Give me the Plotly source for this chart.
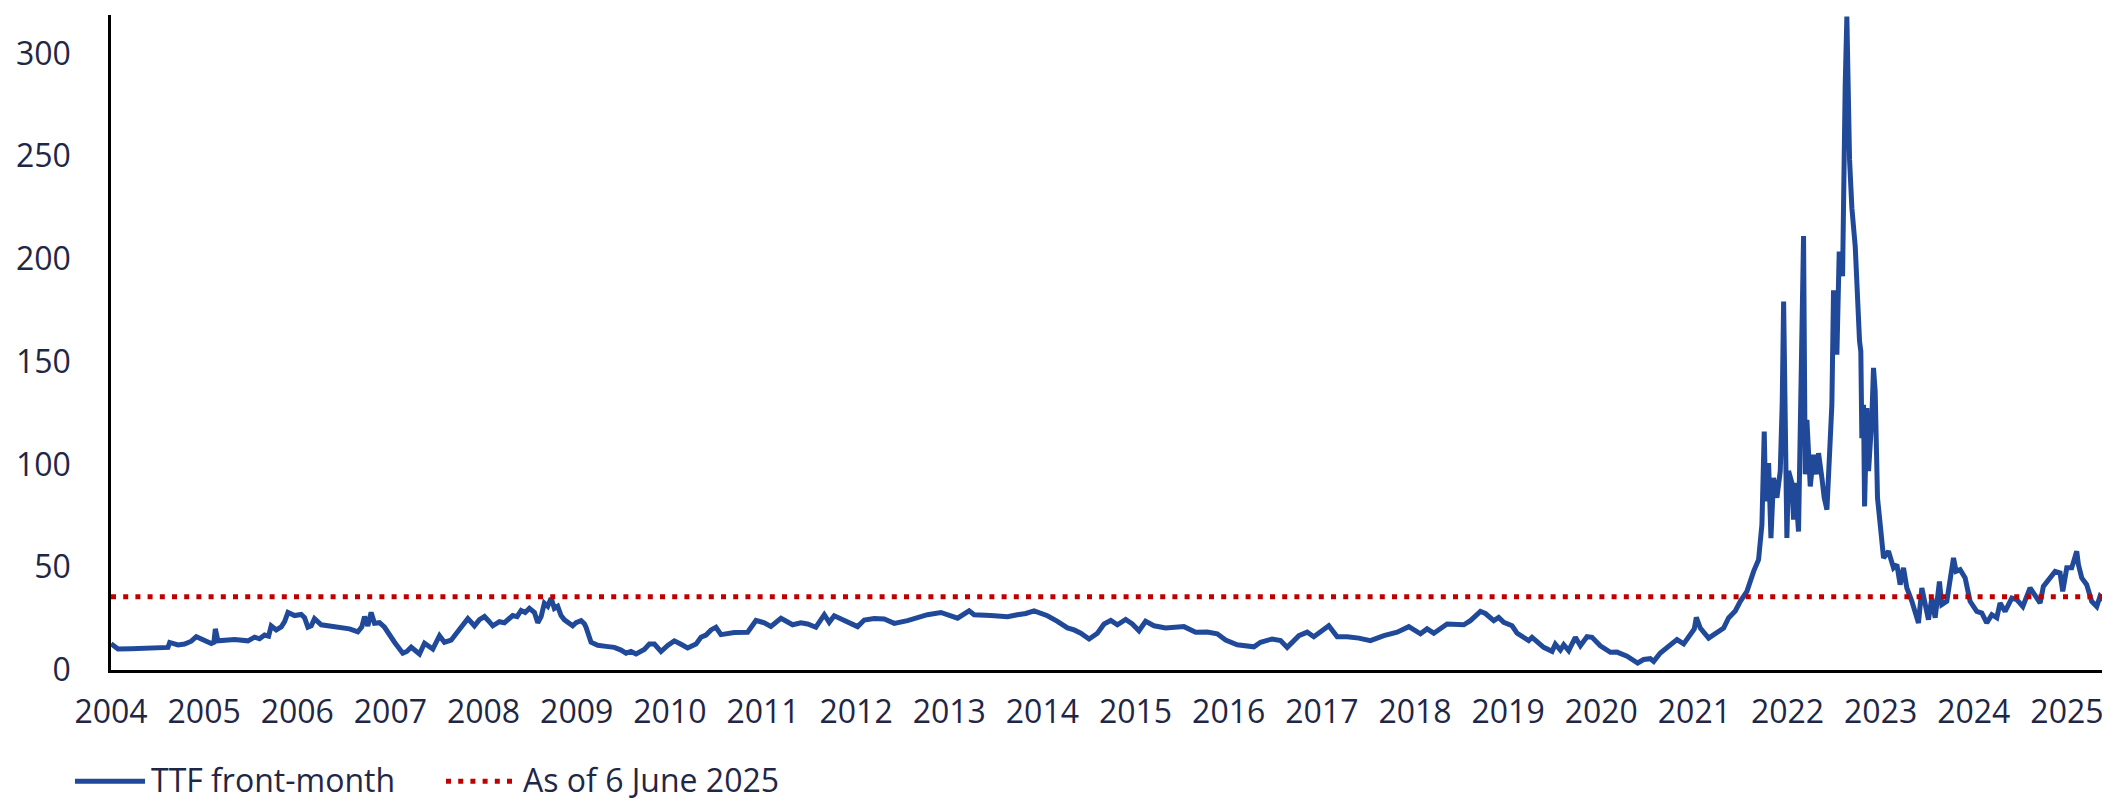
import plotly.graph_objects as go

# TTF front-month gas price (decimal years)
years = [
    2004.00, 2004.075, 2004.218, 2004.433, 2004.612, 2004.630, 2004.719, 2004.790, 2004.862, 2004.916,
    2005.005, 2005.077, 2005.105, 2005.120, 2005.148, 2005.327, 2005.470, 2005.542, 2005.595, 2005.649,
    2005.692, 2005.720, 2005.774, 2005.828, 2005.864, 2005.900, 2005.971, 2006.042, 2006.078, 2006.114,
    2006.150, 2006.185, 2006.257, 2006.346, 2006.472, 2006.561, 2006.650, 2006.693, 2006.722, 2006.758,
    2006.793, 2006.829, 2006.883, 2006.937, 2007.044, 2007.090, 2007.133, 2007.176, 2007.223, 2007.266,
    2007.312, 2007.366, 2007.455, 2007.527, 2007.580, 2007.652, 2007.706, 2007.759, 2007.831, 2007.902,
    2007.956, 2008.010, 2008.052, 2008.099, 2008.170, 2008.224, 2008.313, 2008.360, 2008.403, 2008.446,
    2008.492, 2008.546, 2008.582, 2008.618, 2008.653, 2008.689, 2008.725, 2008.760, 2008.796, 2008.832,
    2008.868, 2008.957, 2008.993, 2009.047, 2009.082, 2009.100, 2009.154, 2009.226, 2009.315, 2009.404,
    2009.476, 2009.530, 2009.583, 2009.637, 2009.726, 2009.780, 2009.834, 2009.905, 2009.977, 2010.048,
    2010.120, 2010.191, 2010.281, 2010.334, 2010.388, 2010.442, 2010.495, 2010.549, 2010.692, 2010.835,
    2010.925, 2011.014, 2011.085, 2011.193, 2011.318, 2011.407, 2011.479, 2011.568, 2011.658, 2011.711,
    2011.765, 2011.837, 2011.926, 2012.016, 2012.087, 2012.194, 2012.302, 2012.409, 2012.552, 2012.659,
    2012.766, 2012.910, 2012.999, 2013.089, 2013.213, 2013.267, 2013.446, 2013.625, 2013.732, 2013.822,
    2013.911, 2013.983, 2014.054, 2014.161, 2014.269, 2014.340, 2014.412, 2014.501, 2014.591, 2014.662,
    2014.734, 2014.805, 2014.894, 2014.965, 2015.037, 2015.108, 2015.198, 2015.323, 2015.412, 2015.520,
    2015.645, 2015.770, 2015.877, 2015.967, 2016.092, 2016.181, 2016.271, 2016.342, 2016.467, 2016.557,
    2016.628, 2016.754, 2016.843, 2016.914, 2017.004, 2017.075, 2017.165, 2017.272, 2017.397, 2017.522,
    2017.666, 2017.809, 2017.934, 2018.059, 2018.130, 2018.202, 2018.345, 2018.524, 2018.595, 2018.703,
    2018.756, 2018.846, 2018.899, 2018.953, 2019.043, 2019.096, 2019.221, 2019.257, 2019.382, 2019.472,
    2019.507, 2019.561, 2019.597, 2019.650, 2019.722, 2019.776, 2019.847, 2019.901, 2019.990, 2020.098,
    2020.169, 2020.277, 2020.391, 2020.455, 2020.527, 2020.563, 2020.634, 2020.706, 2020.813, 2020.885,
    2020.956, 2020.999, 2021.021, 2021.063, 2021.153, 2021.224, 2021.314, 2021.367, 2021.439, 2021.493,
    2021.564, 2021.636, 2021.689, 2021.725, 2021.739, 2021.750, 2021.761, 2021.772, 2021.797, 2021.822,
    2021.850, 2021.886, 2021.922, 2021.943, 2021.958, 2021.975, 2021.993, 2022.011, 2022.047, 2022.065,
    2022.083, 2022.118, 2022.136, 2022.172, 2022.190, 2022.208, 2022.244, 2022.279, 2022.308, 2022.333,
    2022.369, 2022.394, 2022.423, 2022.451, 2022.476, 2022.494, 2022.530, 2022.555, 2022.591, 2022.619,
    2022.637, 2022.666, 2022.691, 2022.727, 2022.752, 2022.773, 2022.787, 2022.798, 2022.816, 2022.827,
    2022.852, 2022.870, 2022.905, 2022.923, 2022.941, 2022.966, 2022.995, 2023.013, 2023.031, 2023.084,
    2023.138, 2023.174, 2023.209, 2023.245, 2023.281, 2023.335, 2023.406, 2023.442, 2023.478, 2023.513,
    2023.549, 2023.585, 2023.631, 2023.656, 2023.710, 2023.746, 2023.782, 2023.810, 2023.853, 2023.907,
    2023.960, 2024.032, 2024.086, 2024.139, 2024.193, 2024.247, 2024.282, 2024.336, 2024.408, 2024.461,
    2024.526, 2024.604, 2024.658, 2024.712, 2024.747, 2024.819, 2024.873, 2024.926, 2024.955, 2024.998,
    2025.051, 2025.105, 2025.123, 2025.159, 2025.212, 2025.266, 2025.320, 2025.355, 2025.391, 2025.427,
]
ttf = [
    12.8, 10.2, 10.4, 10.8, 11.0, 13.4, 12.2, 12.6, 14.0, 16.2,
    14.5, 12.9, 13.5, 20.0, 14.2, 14.8, 14.2, 16.0, 15.2, 17.0,
    16.5, 21.5, 19.5, 21.0, 23.5, 28.0, 26.5, 27.0, 25.5, 20.8,
    21.5, 25.0, 22.0, 21.5, 20.8, 20.0, 18.6, 21.0, 26.0, 21.5,
    28.0, 22.7, 23.0, 20.8, 13.5, 11.0, 8.2, 9.0, 11.1, 9.5,
    7.8, 13.0, 10.2, 16.7, 13.5, 14.5, 18.0, 20.8, 25.0, 21.5,
    24.5, 26.0, 24.0, 21.5, 23.5, 23.0, 26.5, 26.0, 29.0, 28.0,
    30.0, 28.0, 23.0, 26.0, 32.5, 31.0, 35.0, 30.0, 31.0, 26.5,
    24.4, 21.5, 23.0, 24.0, 22.5, 20.8, 13.5, 12.0, 11.5, 11.0,
    9.7, 8.2, 9.0, 7.8, 10.0, 12.6, 12.6, 9.0, 12.0, 14.2,
    12.5, 10.7, 12.6, 15.9, 17.0, 19.5, 20.8, 17.2, 18.2, 18.4,
    24.1, 23.0, 21.2, 25.2, 22.0, 23.0, 22.4, 20.8, 26.9, 23.2,
    26.4, 24.8, 22.5, 21.1, 24.3, 25.0, 24.8, 22.7, 24.0, 25.5,
    26.9, 28.0, 26.5, 25.2, 28.8, 26.9, 26.5, 25.9, 26.9, 27.5,
    28.8, 27.5, 26.4, 23.7, 20.5, 19.5, 17.9, 15.1, 17.9, 22.4,
    24.1, 22.0, 24.6, 22.4, 19.1, 23.7, 21.5, 20.4, 20.8, 21.1,
    18.4, 18.5, 17.6, 14.6, 12.3, 11.8, 11.3, 13.5, 15.1, 14.3,
    11.0, 16.7, 18.4, 16.2, 19.0, 21.5, 16.2, 16.2, 15.5, 14.3,
    16.7, 18.4, 21.1, 17.6, 20.0, 17.9, 22.4, 22.0, 24.0, 28.5,
    27.5, 24.0, 25.6, 23.2, 21.5, 17.9, 14.3, 15.9, 11.0, 9.1,
    12.6, 9.7, 12.3, 9.4, 15.9, 11.8, 16.2, 15.9, 11.8, 8.6,
    8.7, 6.7, 3.4, 5.1, 5.5, 4.2, 8.3, 11.1, 14.8, 12.7,
    16.7, 20.0, 25.6, 20.4, 15.5, 18.0, 20.4, 25.3, 28.7, 33.4,
    38.3, 48.0, 53.7, 70.7, 95.0, 116.0, 90.0, 82.0, 100.7, 64.2,
    93.5, 83.8, 96.8, 130.0, 179.3, 110.0, 64.2, 96.8, 91.0, 73.2,
    91.0, 67.4, 114.4, 211.2, 95.2, 121.7, 89.3, 104.7, 95.2, 105.5,
    93.4, 83.8, 78.0, 112.8, 129.0, 184.8, 153.4, 203.6, 191.6, 284.0,
    317.9, 248.2, 224.7, 206.0, 177.7, 160.0, 155.0, 112.8, 129.0, 79.6,
    127.4, 96.8, 122.5, 147.0, 135.6, 83.8, 70.8, 64.2, 54.5, 57.8,
    49.7, 51.3, 41.5, 49.7, 39.9, 33.4, 22.9, 39.9, 31.8, 24.5,
    35.0, 25.4, 43.1, 31.8, 33.4, 43.1, 54.5, 48.0, 48.8, 44.8,
    33.4, 28.5, 27.7, 22.9, 26.9, 25.4, 32.6, 28.5, 35.0, 34.2,
    30.9, 39.9, 36.7, 32.6, 40.7, 44.8, 48.0, 47.2, 38.3, 49.7,
    49.7, 57.8, 51.3, 44.8, 41.5, 33.4, 30.9, 35.8, 34.2, 35.3,
]

# level as of 6 June 2025
asof_x = [2004.0, 2025.43]
asof_y = [35.7, 35.7]

tick_years = [2004, 2005, 2006, 2007, 2008, 2009, 2010, 2011, 2012, 2013, 2014,
              2015, 2016, 2017, 2018, 2019, 2020, 2021, 2022, 2023, 2024, 2025]
y_ticks = [0, 50, 100, 150, 200, 250, 300]

blue = "#21499a"
red = "#c00000"
txt = "#1f2747"
font = "Open Sans"
leg_text_y = -0.2030   # bottom of the legend text box
leg_line_y = -0.1700

fig = go.Figure()
fig.add_trace(go.Scatter(x=years, y=ttf, mode="lines", name="TTF front-month",
                         line=dict(color=blue, width=5)))
fig.add_trace(go.Scatter(x=asof_x, y=asof_y, mode="lines", name="As of 6 June 2025",
                         line=dict(color=red, width=5, dash="5px,7.2px")))

# legend drawn by hand below the axis
fig.add_shape(type="line", xref="paper", yref="paper", x0=-0.01804, x1=0.01703,
              y0=leg_line_y, y1=leg_line_y, line=dict(color=blue, width=5))
fig.add_shape(type="line", xref="paper", yref="paper", x0=0.16784, x1=0.2009,
              y0=leg_line_y, y1=leg_line_y, line=dict(color=red, width=5, dash="5px,7.2px"))
fig.add_annotation(text="TTF front-month", xref="paper", yref="paper", x=0.0190, y=leg_text_y,
                   xanchor="left", yanchor="bottom", showarrow=False,
                   font=dict(family=font, size=32, color=txt))
fig.add_annotation(text="As of 6 June 2025", xref="paper", yref="paper", x=0.2054, y=leg_text_y,
                   xanchor="left", yanchor="bottom", showarrow=False,
                   font=dict(family=font, size=32, color=txt))

fig.update_layout(
    width=2110, height=798,
    margin=dict(l=103, r=11, t=7, b=136),
    plot_bgcolor="white", paper_bgcolor="white",
    showlegend=False,
    font=dict(family=font, size=32, color=txt),
)
fig.update_xaxes(range=[2004, 2025.43], tickvals=tick_years, ticktext=[str(y) for y in tick_years],
                 showgrid=False, zeroline=False, showline=True, linecolor="black", linewidth=2.5,
                 ticks="", ticklabelstandoff=12, tickfont=dict(family=font, size=32, color=txt))
fig.update_yaxes(range=[0, 318.7], tickvals=y_ticks, showgrid=False, zeroline=False,
                 showline=True, linecolor="black", linewidth=2.5, ticks="",
                 ticklabelstandoff=31, tickfont=dict(family=font, size=32, color=txt))

fig.write_html("out.html")
